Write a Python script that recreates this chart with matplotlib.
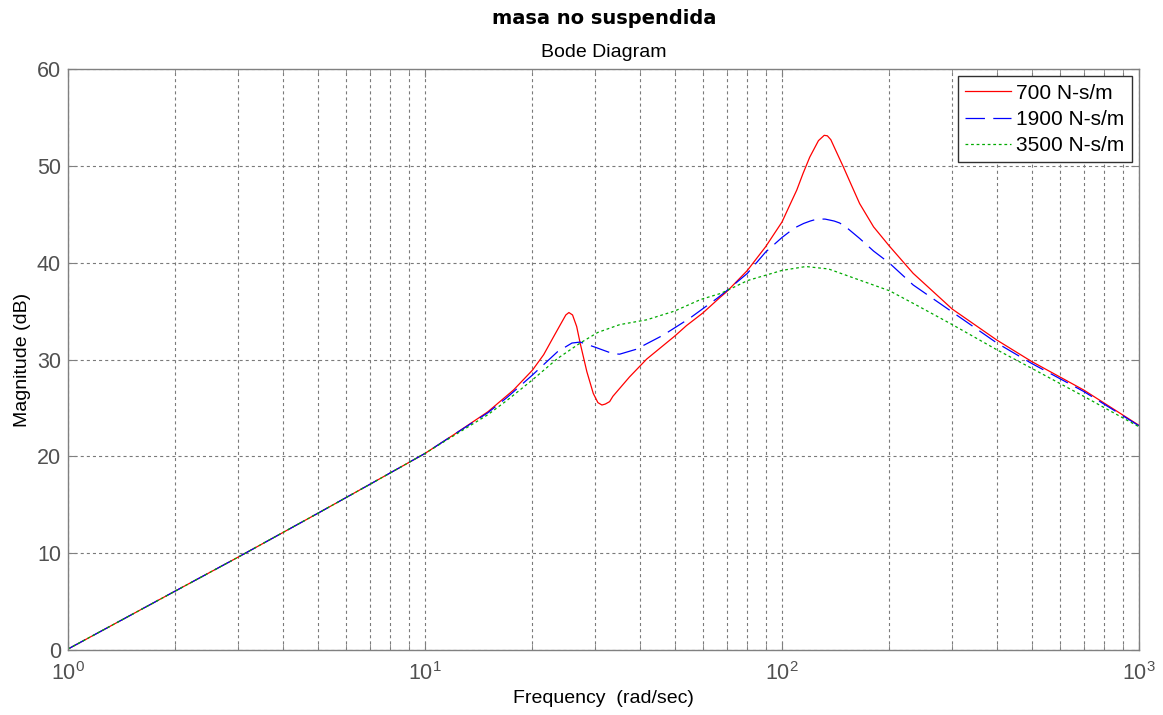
import matplotlib
matplotlib.use("Agg")
import matplotlib.pyplot as plt
from matplotlib.ticker import LogLocator, FixedLocator

# ---- data ----
w_700 = [1, 2, 3, 5, 7, 10, 12, 15, 17, 17.7, 20, 21.5, 22.8, 23.9, 24.8, 25.3, 25.9, 26.6,
         27.2, 28.4, 29.6, 30.5, 31.3, 32.0, 32.9, 33.6, 37.4, 41.8, 50, 54, 60, 67, 70, 80,
         90, 100, 105, 110, 114.5, 119.6, 126.5, 131.3, 134, 137, 141.8, 148.5, 156.5, 165,
         180.5, 200, 233, 300, 400, 500, 700, 1000]
db_700 = [0.1, 6.1, 9.6, 14.1, 17.1, 20.3, 22.2, 24.6, 26.3, 26.85, 28.9, 30.5, 32.2, 33.55,
          34.6, 34.85, 34.6, 33.4, 31.7, 28.75, 26.5, 25.55, 25.3, 25.4, 25.65, 26.2, 28.2,
          30.05, 32.4, 33.5, 34.8, 36.4, 37.0, 39.2, 41.65, 44.2, 45.9, 47.5, 49.2, 50.9, 52.6,
          53.15, 53.1, 52.7, 51.5, 49.9, 48.0, 46.1, 43.7, 41.7, 38.9, 35.2, 32.0, 29.8, 26.85,
          23.2]

w_1900 = [1, 2, 3, 5, 7, 10, 12, 15, 17, 20, 23.5, 25.8, 27.2, 29.8, 33.6, 35.1, 39.0, 46.4,
          55.1, 65.7, 70, 80, 90, 100, 105, 110, 115, 120, 124, 128, 132, 136, 140, 145, 152,
          165, 180.5, 200, 233, 300, 400, 500, 700, 1000]
db_1900 = [0.1, 6.1, 9.6, 14.1, 17.1, 20.3, 22.2, 24.5, 26.1, 28.4, 30.8, 31.7, 31.8, 31.3,
           30.6, 30.55, 31.05, 32.5, 34.25, 36.3, 37.1, 38.9, 41.1, 42.6, 43.2, 43.7, 44.05,
           44.3, 44.45, 44.5, 44.5, 44.4, 44.3, 44.1, 43.6, 42.5, 41.2, 39.95, 37.7, 34.9,
           31.7, 29.6, 26.7, 23.15]

w_3500 = [1, 2, 3, 5, 7, 10, 12, 15, 17, 20, 23.5, 27.2, 30.5, 35.1, 41.8, 50, 59.2, 67, 70,
          80, 100, 116.6, 135, 165, 200, 233, 300, 400, 500, 700, 1000]
db_3500 = [0.1, 6.1, 9.6, 14.1, 17.1, 20.3, 22.1, 24.3, 25.8, 27.9, 30.1, 31.7, 32.8, 33.6,
           34.1, 35.0, 36.2, 36.8, 37.1, 38.15, 39.2, 39.6, 39.35, 38.2, 37.1, 35.8, 33.6,
           31.0, 29.1, 26.2, 23.05]

labels = ["700 N-s/m", "1900 N-s/m", "3500 N-s/m"]
y_ticks = [0, 10, 20, 30, 40, 50, 60]

plt.rcParams['lines.scale_dashes'] = False
plt.rcParams['font.family'] = ['Liberation Sans', 'DejaVu Sans']
plt.rcParams['mathtext.fontset'] = 'custom'
plt.rcParams['mathtext.rm'] = 'Liberation Sans'
plt.rcParams['mathtext.it'] = 'Liberation Sans:italic'
plt.rcParams['mathtext.bf'] = 'Liberation Sans:bold'

fig = plt.figure(figsize=(11.63, 7.15), dpi=100)
ax = fig.add_axes([68/1163, 1-650/715, (1139-68)/1163, (650-69)/715])

ax.plot(w_700, db_700, color='#ff0000', lw=0.9, label=labels[0])
l2, = ax.plot(w_1900, db_1900, color='#0000ff', lw=0.9, label=labels[1])
l2.set_dashes((14, 6))
l3, = ax.plot(w_3500, db_3500, color='#00aa00', lw=0.9, label=labels[2])
l3.set_dashes((2, 2))

ax.set_xscale('log')
ax.set_xlim(1, 1000)
ax.set_ylim(0, 60)
ax.yaxis.set_major_locator(FixedLocator(y_ticks))
ax.xaxis.set_major_locator(LogLocator(base=10, numticks=10))
ax.xaxis.set_minor_locator(LogLocator(base=10, subs=range(2, 10), numticks=100))

gc = '#7a7a7a'
ax.grid(True, which='major', color=gc, linestyle=(0, (2.2, 2.2)), lw=0.8)
ax.grid(True, which='minor', axis='x', color=gc, linestyle=(0, (2.2, 2.2)), lw=0.8)

for s in ax.spines.values():
    s.set_color('#808080')
    s.set_linewidth(1.0)
ax.tick_params(which='both', direction='in', top=True, right=True, colors='#808080',
               labelcolor='#505050', labelsize=15.5)
ax.tick_params(which='major', length=6)
ax.tick_params(which='minor', length=4)
ax.tick_params(axis='x', which='major', pad=9)
ax.tick_params(axis='y', which='major', pad=5)

ax.set_xlabel("Frequency  (rad/sec)", fontsize=14, labelpad=3)
ax.set_ylabel("Magnitude (dB)", fontsize=14, labelpad=4)
ax.set_title("Bode Diagram", fontsize=14, pad=8.5)
fig.text(604/1163, 1-18/715, "masa no suspendida", ha='center', va='center',
         fontsize=14, fontweight='bold', family='DejaVu Sans')

leg = ax.legend(loc='upper right', fontsize=15, fancybox=False, framealpha=1,
                edgecolor='#303030', handlelength=2.2, borderpad=0.35, labelspacing=0.35,
                handletextpad=0.25, borderaxespad=0.35)
leg.get_frame().set_linewidth(1.0)

fig.savefig("out.png", dpi=100)
